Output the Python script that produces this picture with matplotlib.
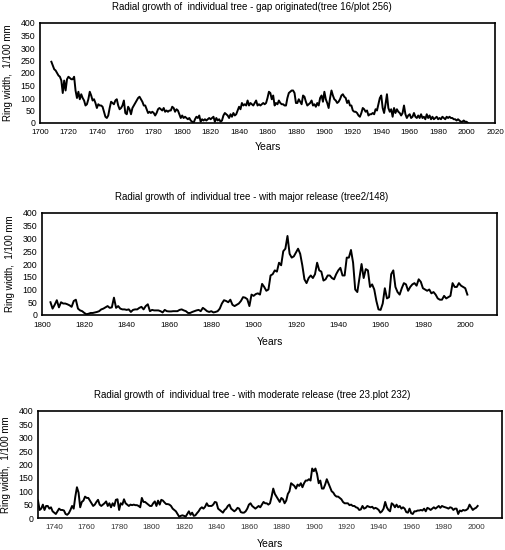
import matplotlib
matplotlib.use("Agg")
import matplotlib.pyplot as plt

plt.rcParams['font.family'] = ['Liberation Sans', 'DejaVu Sans']

# Tree 16 / plot 256 - gap originated
years_gap = list(range(1708, 2002))
width_gap = [245, 230, 215, 210, 200, 190, 185, 170, 120, 170, 130, 175, 185, 180, 175, 175, 185, 130, 100, 125,
             95, 115, 100, 90, 70, 75, 95, 125, 110, 90, 95, 80, 60, 75, 70, 70, 65, 45, 25, 20,
             30, 60, 85, 80, 75, 90, 95, 70, 55, 60, 70, 90, 40, 35, 65, 55, 35, 60, 70, 80,
             90, 100, 105, 95, 85, 70, 70, 55, 40, 45, 40, 45, 40, 30, 40, 55, 60, 55, 50, 60,
             45, 50, 45, 50, 50, 65, 60, 45, 55, 50, 35, 20, 30, 20, 25, 20, 15, 20, 10, 5,
             0, 15, 25, 20, 30, 5, 15, 10, 15, 10, 15, 20, 15, 20, 25, 5, 20, 10, 15, 5,
             10, 30, 40, 35, 30, 20, 35, 25, 40, 30, 35, 50, 65, 55, 80, 70, 75, 70, 90, 70,
             80, 75, 70, 80, 90, 70, 75, 70, 75, 80, 75, 80, 100, 125, 120, 95, 110, 70, 80, 75,
             90, 80, 75, 75, 70, 70, 100, 120, 125, 130, 130, 120, 80, 80, 95, 85, 75, 110, 105, 85,
             70, 75, 80, 90, 70, 75, 65, 80, 70, 100, 110, 85, 125, 95, 80, 60, 100, 130, 110, 95,
             90, 80, 85, 95, 110, 115, 105, 100, 80, 90, 70, 70, 50, 45, 45, 40, 30, 25, 40, 60,
             55, 45, 50, 30, 35, 35, 40, 35, 55, 50, 75, 100, 110, 60, 40, 75, 115, 60, 45, 55,
             25, 60, 40, 55, 45, 40, 30, 40, 70, 35, 20, 30, 35, 20, 25, 40, 25, 20, 30, 20,
             35, 20, 25, 15, 35, 20, 30, 15, 25, 15, 20, 25, 15, 20, 15, 25, 20, 15, 25, 20,
             25, 20, 20, 15, 15, 10, 15, 10, 5, 5, 10, 5, 5, 0]

# Tree 2/148 - major release
years_major = list(range(1804, 2002))
width_major = [50, 25, 40, 58, 30, 50, 45, 45, 42, 38, 32, 55, 60, 25, 18, 15, 8, 3, 5, 8,
               8, 10, 12, 15, 22, 25, 30, 35, 28, 30, 68, 28, 35, 25, 22, 22, 20, 22, 12, 20,
               22, 22, 28, 32, 22, 35, 42, 15, 20, 18, 18, 18, 15, 10, 20, 15, 14, 14, 15, 15,
               15, 20, 22, 18, 15, 8, 8, 12, 15, 18, 20, 15, 28, 22, 15, 12, 15, 10, 12, 15,
               25, 45, 58, 55, 50, 60, 40, 35, 40, 45, 55, 70, 68, 62, 35, 80, 75, 82, 85, 80,
               122, 110, 95, 100, 155, 160, 175, 170, 205, 195, 250, 260, 310, 240, 225, 230, 245, 260, 240, 195,
               140, 125, 145, 155, 145, 160, 205, 175, 170, 135, 140, 155, 155, 145, 140, 160, 175, 185, 155, 155,
               225, 225, 255, 205, 100, 90, 145, 200, 145, 180, 175, 110, 120, 100, 55, 22, 20, 45, 105, 65,
               70, 160, 175, 110, 90, 80, 105, 125, 120, 95, 110, 120, 125, 115, 140, 130, 105, 100, 95, 100,
               85, 90, 80, 65, 60, 60, 75, 65, 70, 75, 125, 110, 110, 125, 115, 110, 105, 80]

# Tree 23, plot 232 - moderate release
years_moderate = list(range(1730, 2002))
width_moderate = [65, 30, 35, 50, 30, 45, 45, 35, 40, 25, 20, 15, 25, 35, 30, 30, 28, 15, 12, 18,
                  30, 45, 35, 80, 115, 95, 40, 60, 65, 80, 75, 75, 65, 55, 45, 50, 60, 68, 50, 45,
                  50, 55, 62, 45, 55, 40, 55, 45, 68, 70, 30, 55, 50, 70, 55, 50, 45, 50, 48, 50,
                  48, 48, 45, 40, 75, 60, 60, 55, 50, 45, 45, 55, 62, 45, 65, 50, 68, 65, 58, 52,
                  52, 50, 45, 35, 30, 25, 15, 5, 8, 10, 8, 5, 15, 25, 12, 20, 8, 10, 18, 25,
                  35, 40, 35, 42, 55, 45, 45, 45, 50, 60, 58, 35, 30, 25, 20, 30, 35, 45, 50, 35,
                  30, 25, 30, 38, 35, 22, 20, 20, 25, 35, 50, 55, 45, 40, 35, 40, 45, 40, 50, 60,
                  55, 55, 50, 55, 80, 110, 90, 80, 70, 60, 75, 70, 55, 65, 90, 100, 130, 125, 120, 110,
                  125, 120, 130, 115, 130, 140, 140, 145, 140, 185, 175, 185, 165, 130, 140, 110, 110, 125, 145, 130,
                  115, 100, 95, 85, 80, 80, 75, 70, 60, 55, 55, 55, 48, 50, 45, 45, 40, 38, 30, 32,
                  45, 35, 38, 45, 42, 40, 42, 35, 38, 35, 30, 20, 25, 35, 60, 40, 30, 25, 55, 50,
                  40, 50, 40, 45, 35, 40, 35, 22, 20, 35, 18, 15, 25, 25, 28, 28, 30, 28, 35, 25,
                  38, 35, 30, 35, 40, 35, 40, 45, 38, 45, 42, 40, 38, 35, 40, 38, 30, 35, 35, 15,
                  28, 25, 30, 28, 30, 35, 50, 40, 30, 35, 38, 45]

titles = ["Radial growth of  individual tree - gap originated(tree 16/plot 256)",
          "Radial growth of  individual tree - with major release (tree2/148)",
          "Radial growth of  individual tree - with moderate release (tree 23.plot 232)"]

W, H = 505, 550
fig = plt.figure(figsize=(W / 100, H / 100), dpi=100)


def make_axes(left, right, top, bottom):
    return fig.add_axes([left / W, 1 - bottom / H, (right - left) / W, (bottom - top) / H])


ax1 = make_axes(40, 495, 23, 123)
ax2 = make_axes(42, 497, 213, 315)
ax3 = make_axes(38, 502, 411, 518)

ax1.plot(years_gap, width_gap, color="black", lw=1.4)
ax2.plot(years_major, width_major, color="black", lw=1.4)
ax3.plot(years_moderate, width_moderate, color="black", lw=1.4)

ax1.set_xlim(1700, 2020)
ax1.set_xticks(range(1700, 2021, 20))
ax2.set_xlim(1800, 2015)
ax2.set_xticks(range(1800, 2001, 20))
ax3.set_xlim(1730, 2016)
ax3.set_xticks(range(1740, 2001, 20))

# titles sit a bit left of the axes centre in the original
title_x = [0.466, 0.4615, 0.461]
xpads = [4, 5, 4]
labelpads = [5, 6, 6]
for ax, title, tx, xp, lp in zip([ax1, ax2, ax3], titles, title_x, xpads, labelpads):
    ax.set_ylim(0, 400)
    ax.set_yticks(range(0, 401, 50))
    ax.set_title(title, fontsize=7, pad=9, x=tx)
    ax.set_xlabel("Years", fontsize=7.5, labelpad=lp)
    ax.set_ylabel("Ring width,  1/100 mm", fontsize=7, labelpad=5)
    ax.tick_params(axis="both", length=0)
    ax.tick_params(axis="x", pad=xp, labelsize=5.8)
    ax.tick_params(axis="y", pad=3.5, labelsize=6.3)
    for sp in ax.spines.values():
        sp.set_linewidth(1.2)
        sp.set_color("black")

ax3.tick_params(axis="x", labelcolor="#333333")

fig.savefig("out.png", dpi=100)
